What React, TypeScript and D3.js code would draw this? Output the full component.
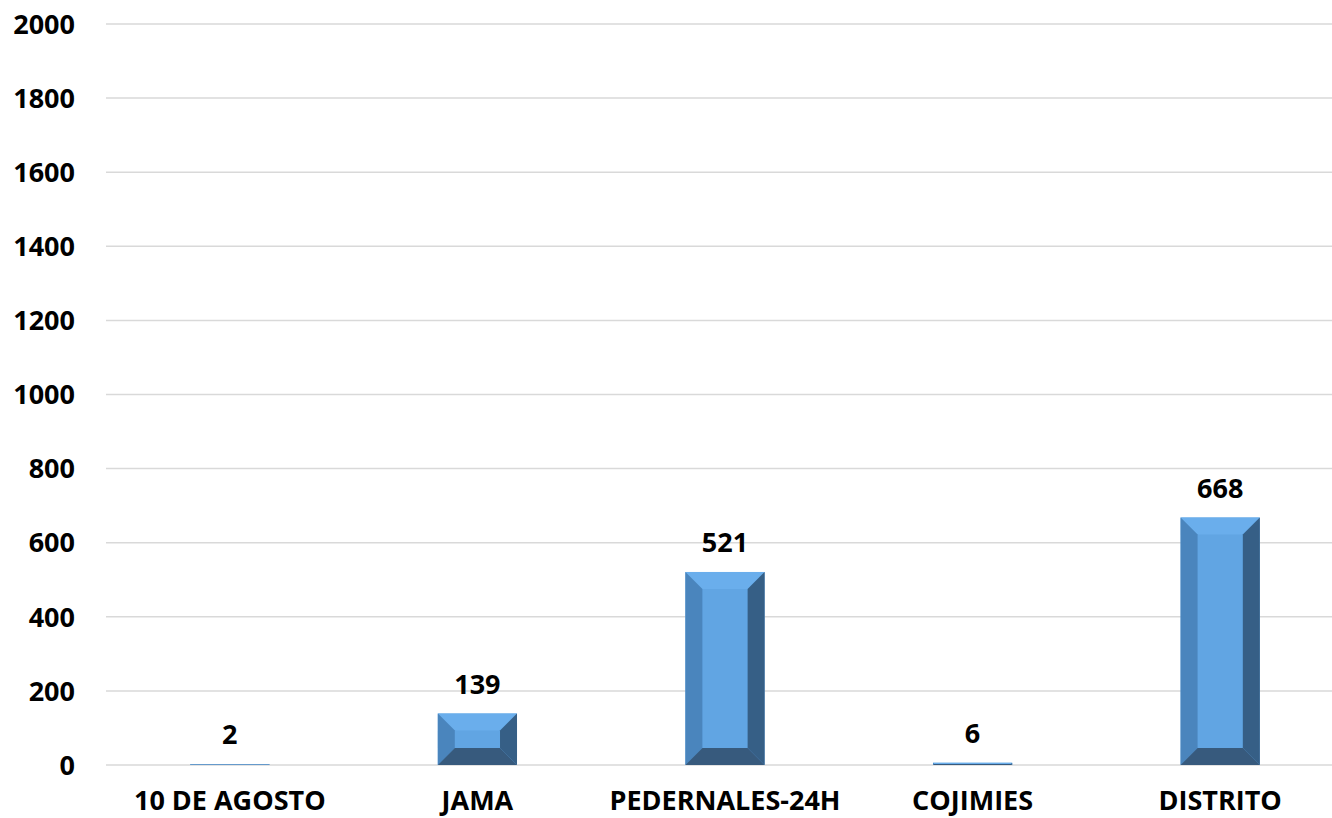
import React from "react";
import * as d3 from "d3";

const categories = ["10 DE AGOSTO", "JAMA", "PEDERNALES-24H", "COJIMIES", "DISTRITO"];
const values = [2, 139, 521, 6, 668];
const yTicks = [0, 200, 400, 600, 800, 1000, 1200, 1400, 1600, 1800, 2000];

const W = 1332;
const H = 818;
const FONT = "'Open Sans', sans-serif";

export default function App() {
  const x = d3.scaleBand<string>().domain(categories).range([106, 1344]).paddingInner(0).paddingOuter(0);
  const y = d3.scaleLinear().domain([0, 2000]).range([765, 24]);
  const barW = x.bandwidth() * 0.32;

  return (
    <svg width={W} height={H} style={{ position: "absolute", left: 0, top: 0, background: "#fff" }}>
      {yTicks.map((t) => (
        <g key={t}>
          <line x1={106} x2={W} y1={y(t)} y2={y(t)} stroke="#D9D9D9" strokeWidth={1.5} />
          <text x={75} y={y(t)} dy="0.36em" textAnchor="end" fontFamily={FONT} fontWeight={700} fontSize={27} fill="#000">
            {t}
          </text>
        </g>
      ))}
      {categories.map((c, i) => {
        const cx = (x(c) as number) + x.bandwidth() / 2;
        const x0 = cx - barW / 2;
        const x1 = cx + barW / 2;
        const y0 = y(values[i]);
        const y1 = y(0);
        const h = y1 - y0;
        const b = Math.min(17, barW / 2, h / 2);
        const pts = (arr: number[][]) => arr.map((p) => p.join(",")).join(" ");
        return (
          <g key={c}>
            <rect x={x0} y={y0} width={barW} height={h} fill="#61A5E3" />
            <polygon points={pts([[x0, y0], [x1, y0], [x1 - b, y0 + b], [x0 + b, y0 + b]])} fill="#6AAEEC" />
            <polygon points={pts([[x0, y0], [x0 + b, y0 + b], [x0 + b, y1 - b], [x0, y1]])} fill="#4A85BD" />
            <polygon points={pts([[x1, y0], [x1 - b, y0 + b], [x1 - b, y1 - b], [x1, y1]])} fill="#365F86" />
            <polygon points={pts([[x0, y1], [x1, y1], [x1 - b, y1 - b], [x0 + b, y1 - b]])} fill="#375A7D" />
            <text x={cx} y={y0 - 20} textAnchor="middle" fontFamily={FONT} fontWeight={700} fontSize={27} fill="#000">
              {values[i]}
            </text>
            <text x={cx} y={810} textAnchor="middle" fontFamily={FONT} fontWeight={700} fontSize={27} fill="#000">
              {c}
            </text>
          </g>
        );
      })}
    </svg>
  );
}
